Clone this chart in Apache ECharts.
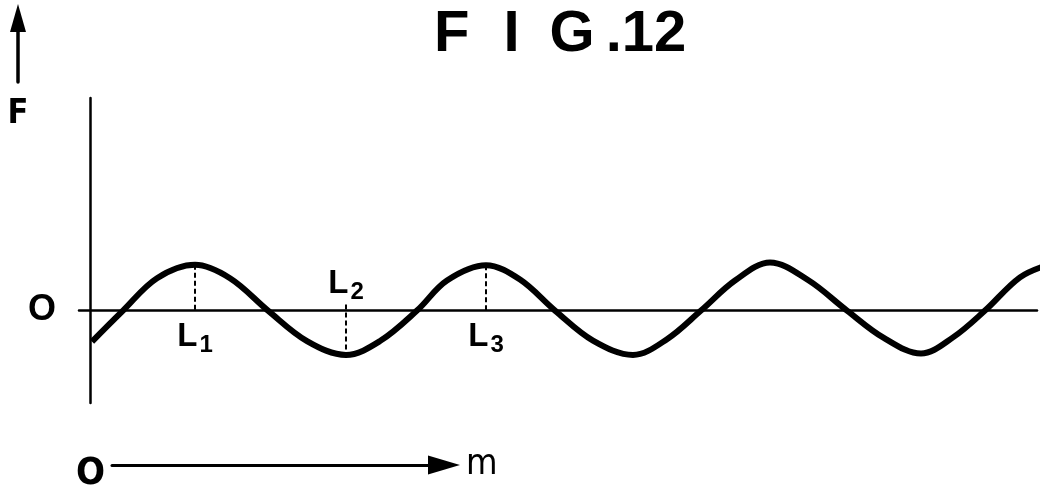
<!DOCTYPE html>
<html>
<head>
<meta charset="utf-8">
<script src="https://cdn.jsdelivr.net/npm/echarts@6/dist/echarts.min.js"></script>
<style>
  html, body { margin: 0; padding: 0; background: #fff; }
  #main { width: 1048px; height: 487px; }
</style>
</head>
<body>
<div id="main"></div>
<script>
// curve: m position, F value
var mVals = [2, 33, 67, 105, 140, 178, 217, 256, 290, 327, 357, 396, 430, 465, 503, 543, 577, 611, 645, 680, 718, 757, 793, 831, 863, 895, 930, 958]
var fVals = [-0.67, 0, 0.70, 0.99, 0.70, 0, -0.66, -0.96, -0.66, 0, 0.65, 0.98, 0.67, 0, -0.65, -0.96, -0.62, 0, 0.65, 1.04, 0.66, 0, -0.58, -0.93, -0.58, 0, 0.72, 0.99]

// dashed drop lines at L1, L2, L3
var dropM = [105, 256, 396]
var dropTop = [0.99, 0.13, 0.98]
var dropBottom = [0, -0.96, 0]
var dropSubs = ['1', '2', '3']

var FONT = 'Liberation Sans'
var COND = '"DejaVu Sans Condensed", "Liberation Sans", sans-serif'

var chart = echarts.init(document.getElementById('main'))

var curve = mVals.map(function(m, i) { return [m, fVals[i]] })

var dropSeries = dropM.map(function(m, i) {
  return {
    type: 'line',
    xAxisIndex: 0,
    yAxisIndex: 0,
    data: [[m, dropTop[i]], [m, dropBottom[i]]],
    showSymbol: false,
    silent: true,
    lineStyle: { color: '#000', width: 2, type: [5, 3] }
  }
})

var labelPos = ['bottom', 'top', 'bottom']
var labelAnchors = dropM.map(function(m, i) {
  return {
    value: [m, labelPos[i] === 'top' ? dropTop[i] : dropBottom[i]],
    label: { position: labelPos[i], distance: labelPos[i] === 'top' ? 0 : 11 }
  }
})

chart.setOption({
  animation: false,
  backgroundColor: '#fff',
  title: [
    {
      text: '{f|F}{i|I}{g|G}{d|.12}',
      left: 429,
      top: 1,
      textStyle: {
        rich: {
          f: { fontFamily: FONT, fontWeight: 'bold', fontSize: 58, color: '#000' },
          i: { fontFamily: FONT, fontWeight: 'bold', fontSize: 58, color: '#000', padding: [0, 0, 0, 34] },
          g: { fontFamily: FONT, fontWeight: 'bold', fontSize: 58, color: '#000', padding: [0, 0, 0, 30] },
          d: { fontFamily: FONT, fontWeight: 'bold', fontSize: 58, color: '#000', padding: [0, 0, 0, 11] }
        }
      }
    },
    {
      text: 'O',
      left: 71,
      top: 450,
      textStyle: { fontFamily: COND, fontWeight: 'bold', fontSize: 38, color: '#000' }
    }
  ],
  grid: [
    { left: 79, right: 11, top: 98, bottom: 84 },
    { left: 18, top: 18, width: 1, height: 64 },
    { left: 112, top: 464, width: 332, height: 1 }
  ],
  xAxis: [
    {
      gridIndex: 0,
      type: 'value',
      min: -11,
      max: 947,
      axisLine: { onZero: true, lineStyle: { color: '#000', width: 2.5 } },
      axisTick: { show: false },
      axisLabel: { show: false },
      splitLine: { show: false }
    },
    { gridIndex: 1, type: 'value', show: false },
    {
      gridIndex: 2,
      type: 'value',
      min: 0,
      max: 1,
      name: 'm',
      nameLocation: 'end',
      nameGap: 22,
      nameTextStyle: { fontFamily: COND, fontSize: 36, color: '#000', verticalAlign: 'middle', padding: [0, 0, 10, 0] },
      axisLine: {
        symbol: ['none', 'triangle'],
        symbolSize: [19, 32],
        lineStyle: { color: '#000', width: 3 }
      },
      axisTick: { show: false },
      axisLabel: { show: false },
      splitLine: { show: false }
    }
  ],
  yAxis: [
    {
      gridIndex: 0,
      type: 'value',
      min: -2,
      max: 4.6,
      interval: 2,
      axisLine: { show: true, onZero: true, lineStyle: { color: '#000', width: 2.5 } },
      axisTick: { show: false },
      axisLabel: {
        margin: 23,
        fontFamily: FONT,
        fontWeight: 'bold',
        fontSize: 36,
        color: '#000',
        formatter: function(v) { return v === 0 ? 'O' : '' }
      },
      splitLine: { show: false }
    },
    {
      gridIndex: 1,
      type: 'value',
      min: 0,
      max: 1,
      name: 'F',
      nameLocation: 'start',
      nameGap: 15,
      nameTextStyle: { fontFamily: COND, fontWeight: 'bold', fontSize: 34, color: '#000', align: 'center' },
      axisLine: {
        show: true,
        symbol: ['none', 'triangle'],
        symbolSize: [16, 28],
        lineStyle: { color: '#000', width: 3.5 }
      },
      axisTick: { show: false },
      axisLabel: { show: false },
      splitLine: { show: false }
    },
    { gridIndex: 2, type: 'value', show: false }
  ],
  series: [
    {
      name: 'F',
      type: 'line',
      xAxisIndex: 0,
      yAxisIndex: 0,
      data: curve,
      smooth: 0.35,
      showSymbol: false,
      clip: false,
      lineStyle: { color: '#000', width: 6 }
    }
  ].concat(dropSeries).concat([
    {
      type: 'scatter',
      xAxisIndex: 0,
      yAxisIndex: 0,
      data: labelAnchors,
      symbolSize: 0,
      silent: true,
      itemStyle: { opacity: 1 },
      label: {
        show: true,
        color: '#000',
        formatter: function(p) { return '{l|L}{s|' + dropSubs[p.dataIndex] + '}' },
        rich: {
          l: { fontFamily: FONT, fontWeight: 'bold', fontSize: 33, color: '#000', lineHeight: 36, verticalAlign: 'bottom', padding: [0, 0, 4, 0] },
          s: { fontFamily: FONT, fontWeight: 'bold', fontSize: 24, color: '#000', lineHeight: 36, verticalAlign: 'bottom', padding: [0, 0, 0, 2] }
        }
      }
    }
  ])
})
</script>
</body>
</html>
